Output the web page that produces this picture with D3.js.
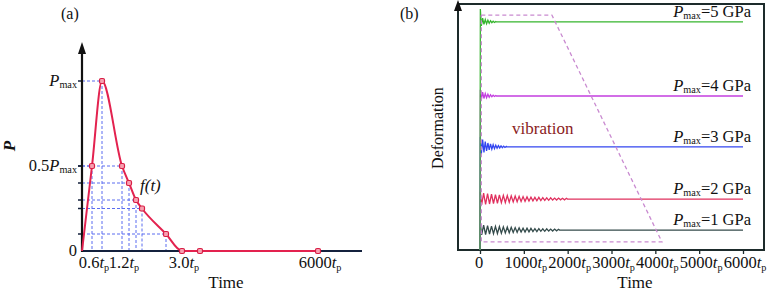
<!DOCTYPE html>
<html>
<head>
<meta charset="utf-8">
<script src="https://cdn.jsdelivr.net/npm/d3@7"></script>
<style>
  body { margin: 0; background: #fff; }
  text { font-family: "Liberation Serif", "DejaVu Serif", serif; fill: #111; }
</style>
</head>
<body>
<div id="chart"></div>
<script>
// ---- panel (a): pulse shape, schematic time axis ----
var pulseTime = [0, 0.6, 0.8, 1.2, 1.41, 1.62, 1.8, 2.52, 3.0, 4.0, 6000];
var pulseP    = [0, 0.5, 1.0, 0.5, 0.4, 0.3, 0.25, 0.1, 0, 0, 0];
var pulseTickTimes = [0.6, 1.2, 3.0, 6000];
var pulseTickLabels = ['0.6', '1.2', '3.0', '6000'];

// ---- panel (b): deformation vs time ----
var pressures   = [1, 2, 3, 4, 5];            // GPa
var levels      = [8.1, 20.7, 41.9, 62.6, 92.7]; // steady deformation (arb. units)
var overshoot   = [2.5, 3.0, 4.0, 2.5, 5.3];
var periods     = [90, 90, 60, 60, 60];       // tp per oscillation
var amplitudes  = [
    [2.0, 1.8, 1.6, 1.5, 1.4, 1.3, 1.2, 1.1, 1.0, 0.9, 0.8, 0.8, 0.7, 0.6, 0.6, 0.5, 0.5, 0.4, 0.4, 0.3],
    [2.4, 2.2, 2.0, 1.8, 1.7, 1.5, 1.4, 1.3, 1.2, 1.1, 1.0, 0.9, 0.8, 0.7, 0.7, 0.6, 0.5, 0.5, 0.4, 0.4, 0.3, 0.3],
    [3.0, 2.2, 1.6, 1.2, 0.9, 0.7, 0.5, 0.4, 0.3, 0.2],
    [1.6, 1.0, 0.7, 0.5, 0.3, 0.2],
    [1.6, 1.0, 0.7, 0.5, 0.3, 0.2]
];
var colors = ['#344b4b', '#e0305e', '#3346f0', '#c43fe0', '#36b52e'];
var timeTicks = [0, 1000, 2000, 3000, 4000, 5000, 6000];
var boxTime = [30, 1640, 4150, 30, 30];        // dashed "vibration" region
var boxDef  = [95.5, 95.5, 3.3, 3.3, 95.5];

var width = 776, height = 294;
var fs = 16.5;
var svg = d3.select('#chart').append('svg')
    .attr('width', width)
    .attr('height', height);

// ================= panel (a) =================
var xa = d3.scaleLinear()
    .domain([0, 0.6, 1.2, 3.0, 4.0, 6000])
    .range([82, 92, 122, 182, 200, 318]);
var ya = d3.scaleLinear().domain([0, 1]).range([251, 81]);
var gA = svg.append('g');

var axisColor = '#14213d';
var gridColor = '#5a6cf0';

// dashed guide lines
var pts = pulseTime.map(function(t, i) { return { t: t, p: pulseP[i] }; });
var guidePts = pts.filter(function(d) { return d.p > 0; });
gA.selectAll('.hguide').data(guidePts).enter().append('line')
    .attr('x1', xa(0)).attr('x2', function(d) { return xa(d.t); })
    .attr('y1', function(d) { return ya(d.p); }).attr('y2', function(d) { return ya(d.p); })
    .attr('stroke', gridColor).attr('stroke-width', 1).attr('stroke-dasharray', '3,2');
gA.selectAll('.vguide').data(guidePts).enter().append('line')
    .attr('x1', function(d) { return xa(d.t); }).attr('x2', function(d) { return xa(d.t); })
    .attr('y1', function(d) { return ya(d.p); }).attr('y2', ya(0))
    .attr('stroke', gridColor).attr('stroke-width', 1).attr('stroke-dasharray', '3,2');

// y-axis ticks at guide levels
gA.selectAll('.ytick').data(guidePts).enter().append('line')
    .attr('x1', xa(0) - 4).attr('x2', xa(0))
    .attr('y1', function(d) { return ya(d.p); }).attr('y2', function(d) { return ya(d.p); })
    .attr('stroke', axisColor).attr('stroke-width', 1.5);

// axes
gA.append('line')
    .attr('x1', xa(0)).attr('x2', 362).attr('y1', ya(0)).attr('y2', ya(0))
    .attr('stroke', axisColor).attr('stroke-width', 2.2);
gA.append('line')
    .attr('x1', xa(0)).attr('x2', xa(0)).attr('y1', ya(0) + 1).attr('y2', 52)
    .attr('stroke', '#111').attr('stroke-width', 2.2);
gA.append('path')
    .attr('d', 'M' + (xa(0) - 4) + ',54 L' + xa(0) + ',42 L' + (xa(0) + 4) + ',54 Z')
    .attr('fill', '#111');

// pulse curve
var line = d3.line()
    .x(function(d) { return xa(d.t); })
    .y(function(d) { return ya(d.p); })
    .curve(d3.curveMonotoneX);
gA.append('path')
    .datum(pts)
    .attr('d', line)
    .attr('fill', 'none')
    .attr('stroke', '#e3224f')
    .attr('stroke-width', 2);
gA.selectAll('.mark').data(pts.slice(1)).enter().append('rect')
    .attr('x', function(d) { return xa(d.t) - 2.5; })
    .attr('y', function(d) { return ya(d.p) - 2.5; })
    .attr('width', 5).attr('height', 5).attr('rx', 1.5)
    .attr('fill', '#f7a0b0').attr('stroke', '#d81e45').attr('stroke-width', 1.2);

// tick labels
pulseTickTimes.forEach(function(t, i) {
    var tx = gA.append('text')
        .attr('x', xa(t) + 2).attr('y', 268)
        .attr('text-anchor', 'middle').attr('font-size', fs);
    tx.append('tspan').text(pulseTickLabels[i]);
    tx.append('tspan').text('t').style('font-style', 'italic');
    tx.append('tspan').text('p').attr('font-size', '0.62em').attr('dy', 3);
});
gA.append('text').attr('x', 77).attr('y', 256).attr('text-anchor', 'end')
    .attr('font-size', fs).text('0');
var yl1 = gA.append('text').attr('x', 77).attr('y', ya(1) + 5).attr('text-anchor', 'end').attr('font-size', fs);
yl1.append('tspan').text('P').style('font-style', 'italic');
yl1.append('tspan').text('max').attr('font-size', '0.62em').attr('dy', 2);
var yl2 = gA.append('text').attr('x', 77).attr('y', ya(0.5) + 5).attr('text-anchor', 'end').attr('font-size', fs);
yl2.append('tspan').text('0.5');
yl2.append('tspan').text('P').style('font-style', 'italic');
yl2.append('tspan').text('max').attr('font-size', '0.62em').attr('dy', 2);

gA.append('text').attr('x', 140).attr('y', 191).attr('font-size', 17)
    .style('font-style', 'italic').text('f(t)');
gA.append('text').attr('x', 226).attr('y', 288).attr('text-anchor', 'middle')
    .attr('font-size', 17).text('Time');
gA.append('text').attr('transform', 'translate(15,146) rotate(-90)')
    .attr('text-anchor', 'middle').attr('font-size', 17)
    .style('font-style', 'italic').style('font-weight', 'bold').text('P');
gA.append('text').attr('x', 61).attr('y', 19).attr('font-size', 16).text('(a)');

// ================= panel (b) =================
var xb = d3.scaleLinear().domain([0, 6000]).range([480, 743]);
var yb = d3.scaleLinear().domain([0, 100]).range([250, 4]);
var gB = svg.append('g');

// frame
gB.append('rect')
    .attr('x', 458).attr('y', 4).attr('width', 306).attr('height', 246)
    .attr('fill', 'none').attr('stroke', '#1d2b2b').attr('stroke-width', 2);
gB.append('path')
    .attr('d', 'M454,11 L458,0 L462,11 Z')
    .attr('fill', '#111');

// x axis ticks
var xAxis = d3.axisBottom(xb).tickValues(timeTicks).tickSize(4).tickFormat('');
var gx = gB.append('g').attr('transform', 'translate(0,250)').call(xAxis);
gx.select('.domain').remove();
gx.selectAll('line').attr('stroke', '#1d2b2b').attr('stroke-width', 1.3);
timeTicks.forEach(function(t) {
    var tx = gB.append('text').attr('x', xb(t) + (t === 0 ? -1 : 2)).attr('y', 268)
        .attr('text-anchor', 'middle').attr('font-size', fs);
    if (t === 0) { tx.text('0'); return; }
    tx.append('tspan').text(t);
    tx.append('tspan').text('t').style('font-style', 'italic');
    tx.append('tspan').text('p').attr('font-size', '0.62em').attr('dy', 3);
});

// deformation curves
var defLine = d3.line()
    .x(function(d) { return xb(d[0]); })
    .y(function(d) { return yb(d[1]); });
pressures.forEach(function(p, i) {
    var lv = levels[i];
    var data = [[0, 0], [8, lv + overshoot[i]]];
    var t0 = 15;
    amplitudes[i].forEach(function(a, k) {
        data.push([t0 + k * periods[i] + periods[i] * 0.25, lv - a]);
        data.push([t0 + k * periods[i] + periods[i] * 0.75, lv + a]);
    });
    data.push([t0 + amplitudes[i].length * periods[i], lv]);
    data.push([6000, lv]);
    gB.append('path')
        .datum(data)
        .attr('d', defLine)
        .attr('fill', 'none')
        .attr('stroke', colors[i])
        .attr('stroke-width', 1.3);

    var lab = gB.append('text')
        .attr('x', 751).attr('y', yb(lv) - 5)
        .attr('text-anchor', 'end').attr('font-size', fs);
    lab.append('tspan').text('P').style('font-style', 'italic');
    lab.append('tspan').text('max').attr('font-size', '0.62em').attr('dy', 2);
    lab.append('tspan').text('=' + p + ' GPa').attr('dy', -2);
});

// dashed vibration region
gB.append('path')
    .datum(boxTime.map(function(t, i) { return [t, boxDef[i]]; }))
    .attr('d', defLine)
    .attr('fill', 'none')
    .attr('stroke', '#c98ad0')
    .attr('stroke-width', 1.3)
    .attr('stroke-dasharray', '4,3');

gB.append('text').attr('x', 512).attr('y', 134).attr('font-size', 17)
    .style('fill', '#8a1c1c').text('vibration');
gB.append('text').attr('x', 635).attr('y', 288).attr('text-anchor', 'middle')
    .attr('font-size', 17).text('Time');
gB.append('text').attr('transform', 'translate(443,128) rotate(-90)')
    .attr('text-anchor', 'middle').attr('font-size', 16).text('Deformation');
gB.append('text').attr('x', 400).attr('y', 19).attr('font-size', 16).text('(b)');
</script>
</body>
</html>
